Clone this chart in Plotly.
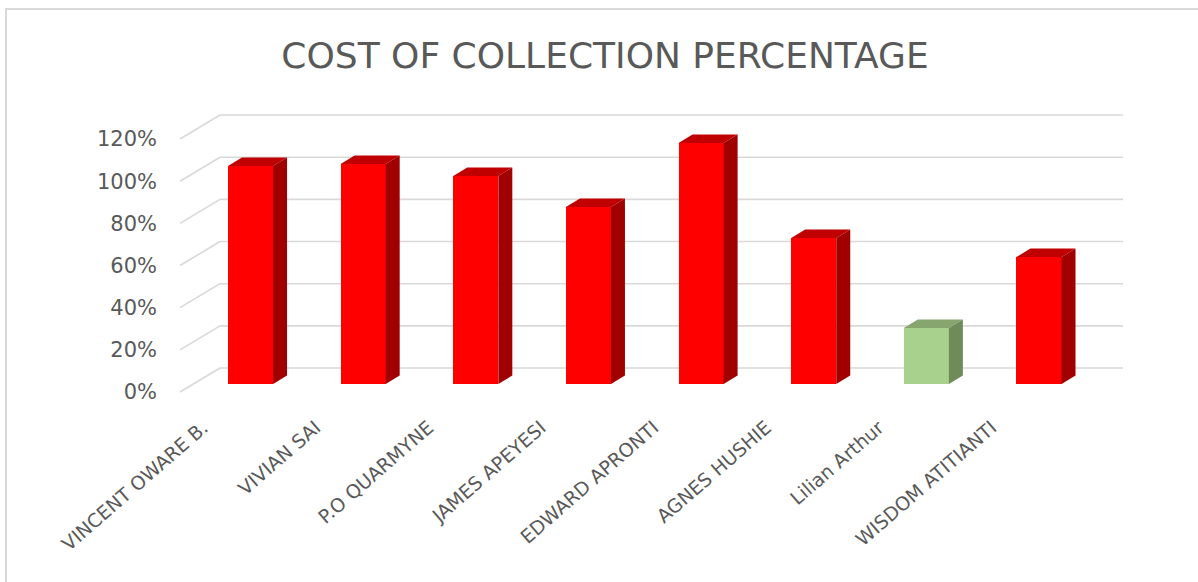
import plotly.graph_objects as go

# ---- data ----
names = ["VINCENT OWARE B.", "VIVIAN SAI", "P.O QUARMYNE", "JAMES APEYESI",
         "EDWARD APRONTI", "AGNES HUSHIE", "Lilian Arthur", "WISDOM ATITIANTI"]
values = [103.4, 104.4, 98.7, 84.0, 114.3, 69.3, 26.6, 60.2]   # percent
y_ticks = [0, 20, 40, 60, 80, 100, 120]
y_tick_text = ["0%", "20%", "40%", "60%", "80%", "100%", "120%"]
highlight = ["Lilian Arthur"]

# ---- style ----
W, H = 1198, 582
L, R, T, B = 180, 75, 105, 182
PX_PER_UNIT_X = 112.64
PX_PER_PCT = 2.108
x_lo = -0.626
x_hi = x_lo + (W - L - R) / PX_PER_UNIT_X
y_lo = -16 / PX_PER_PCT
y_hi = y_lo + (H - T - B) / PX_PER_PCT
BACK_OFF = 16 / PX_PER_PCT       # back wall vs bar front plane
FRONT_OFF = -8 / PX_PER_PCT      # floor front edge vs bar front plane
WALL_X = (220 - 250.5) / PX_PER_UNIT_X
DX = 14 / PX_PER_UNIT_X
DY = 8.5 / PX_PER_PCT
BW = 0.40

RED = ("#FF0000", "#C00000", "#A00000")
GREEN = ("#A9D18E", "#86A56F", "#6F8B5A")
TXT = "#595959"
GRID = "#D9D9D9"
FONT = "DejaVu Sans"

xs = list(range(len(names)))
cols = [GREEN if n in highlight else RED for n in names]

fig = go.Figure()
fig.add_trace(go.Bar(x=xs, y=values, width=BW,
                     marker=dict(color=[c[0] for c in cols], line=dict(width=0)),
                     hoverinfo="skip", showlegend=False))

for x, v, c in zip(xs, values, cols):
    l, r = x - BW / 2, x + BW / 2
    # top face
    fig.add_trace(go.Scatter(x=[l, r, r + DX, l + DX, l], y=[v, v, v + DY, v + DY, v],
                             fill="toself", fillcolor=c[1], mode="lines",
                             line=dict(width=0, color=c[1]), hoverinfo="skip", showlegend=False))
    # side face
    fig.add_trace(go.Scatter(x=[r, r + DX, r + DX, r, r], y=[0, DY, v + DY, v, 0],
                             fill="toself", fillcolor=c[2], mode="lines",
                             line=dict(width=0, color=c[2]), hoverinfo="skip", showlegend=False))

shapes = []
for g in y_ticks:
    shapes.append(dict(type="line", xref="x", yref="y", x0=WALL_X, x1=x_hi,
                       y0=g + BACK_OFF, y1=g + BACK_OFF, line=dict(color=GRID, width=1.6), layer="below"))
    shapes.append(dict(type="line", xref="x", yref="y", x0=x_lo, x1=WALL_X,
                       y0=g + FRONT_OFF, y1=g + BACK_OFF, line=dict(color=GRID, width=1.6), layer="below"))

# outer chart frame
pw, ph = W - L - R, H - T - B
shapes.append(dict(type="rect", xref="paper", yref="paper",
                   x0=(6 - L) / pw, x1=(W + 10 - L) / pw,
                   y0=1 - (H + 10 - T) / ph, y1=1 - (9 - T) / ph,
                   line=dict(color=GRID, width=2), layer="below"))

fig.update_layout(
    width=W, height=H,
    margin=dict(l=L, r=R, t=T, b=B),
    paper_bgcolor="white", plot_bgcolor="white",
    title=dict(text="COST OF COLLECTION PERCENTAGE", x=605 / W, xref="container",
               y=1 - 55 / H, yref="container", yanchor="middle", xanchor="center",
               font=dict(family=FONT, size=36, color=TXT)),
    xaxis=dict(range=[x_lo, x_hi], tickvals=[x - 0.42 for x in xs], ticktext=names,
               tickangle=-41, showgrid=False, zeroline=False, showline=False, ticks="",
               ticklabelstandoff=12,
               tickfont=dict(family=FONT, size=19, color=TXT), fixedrange=True),
    yaxis=dict(range=[y_lo, y_hi], tickvals=[g + FRONT_OFF for g in y_ticks], ticktext=y_tick_text,
               showgrid=False, zeroline=False, showline=False, ticks="", ticklabelstandoff=22,
               tickfont=dict(family=FONT, size=21, color=TXT), fixedrange=True),
    shapes=shapes,
    bargap=0,
)

fig.write_html("out.html")
